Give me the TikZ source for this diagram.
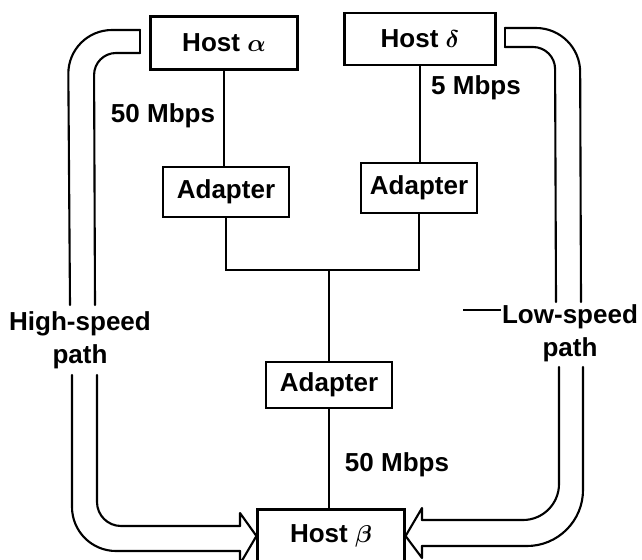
\documentclass[tikz,border=0pt]{standalone}
\usepackage{fontspec}
\setmainfont{Liberation Sans}
\begin{document}
\begin{tikzpicture}[x=0.025cm,y=-0.025cm,
    txt/.style={font=\fontsize{18.5}{23.5}\selectfont\bfseries\boldmath},
    box/.style={txt,draw,line width=1.5pt,inner sep=0pt},
    lbl/.style={txt,align=center},
    link/.style={line width=1pt},
    pipe/.style={line width=1.5pt,line cap=round,line join=round}]
    \useasboundingbox (0,0) rectangle (642,559);
    \node[box,minimum width=3.675cm,minimum height=1.325cm] (hostA) at (224,43) {Host $\alpha$};
    \node[box,minimum width=3.775cm,minimum height=1.3cm] (hostD) at (420,39) {Host $\delta$};
    \node[box,minimum width=3.15cm,minimum height=1.25cm] (adL) at (226,192) {Adapter};
    \node[box,minimum width=2.9cm,minimum height=1.25cm] (adR) at (419,188) {Adapter};
    \node[box,minimum width=3.15cm,minimum height=1.15cm] (adB) at (329,385) {Adapter};
    \node[box,minimum width=3.675cm,minimum height=1.325cm] (hostB) at (331,536) {Host $\beta$};
    \node[lbl] (rateA) at (163,116) {50 Mbps};
    \node[lbl] (rateD) at (476,88) {5 Mbps};
    \node[lbl] (rateB) at (397,465) {50 Mbps};
    \node[lbl] (hiLbl) at (80,340) {High-speed\\path};
    \node[lbl] (loLbl) at (570,333) {Low-speed\\path};
    \draw[link] (hostA.south) -- (hostA.south |- adL.north);
    \draw[link] (hostD.south) -- (hostD.south |- adR.north);
    \coordinate (jn) at (329,270);
    \draw[link] (adL.south) |- (jn) -| (adR.south);
    \draw[link] (jn) -- (adB.north);
    \draw[link] (adB.south) -- (adB.south |- hostB.north);
    \coordinate (ldr) at (463,310);
    \draw[link] (ldr) -- ([xshift=3pt]ldr -| loLbl.west);
    % high-speed path
    \draw[pipe,rounded corners=1.1cm] (140,30) -- (68,30) -- (70,305);
    \draw[pipe,rounded corners=0.55cm] (140,53) -- (94,53) -- (95,305);
    \draw[pipe] (140,30) -- (140,53);
    \draw[pipe,rounded corners=1.1cm] (72,375) -- (72,551) -- (240,551);
    \draw[pipe] (240,551) -- (240,564) -- (hostB.west) -- (240,513) -- (240,526);
    \draw[pipe,rounded corners=0.6cm] (240,526) -- (97,526) -- (97,375);
    % low-speed path
    \draw[pipe,rounded corners=1.1cm] (505,28) -- (580,28) -- (581,302);
    \draw[pipe,rounded corners=0.55cm] (505,47) -- (555,47) -- (556,302);
    \draw[pipe] (505,28) -- (505,47);
    \draw[pipe,rounded corners=1.4cm] (583,367) -- (583,546) -- (422,546);
    \draw[pipe] (422,546) -- (422,558) -- (hostB.east) -- (422,508) -- (422,520);
    \draw[pipe,rounded corners=0.9cm] (422,520) -- (559,520) -- (559,367);
\end{tikzpicture}
\end{document}
